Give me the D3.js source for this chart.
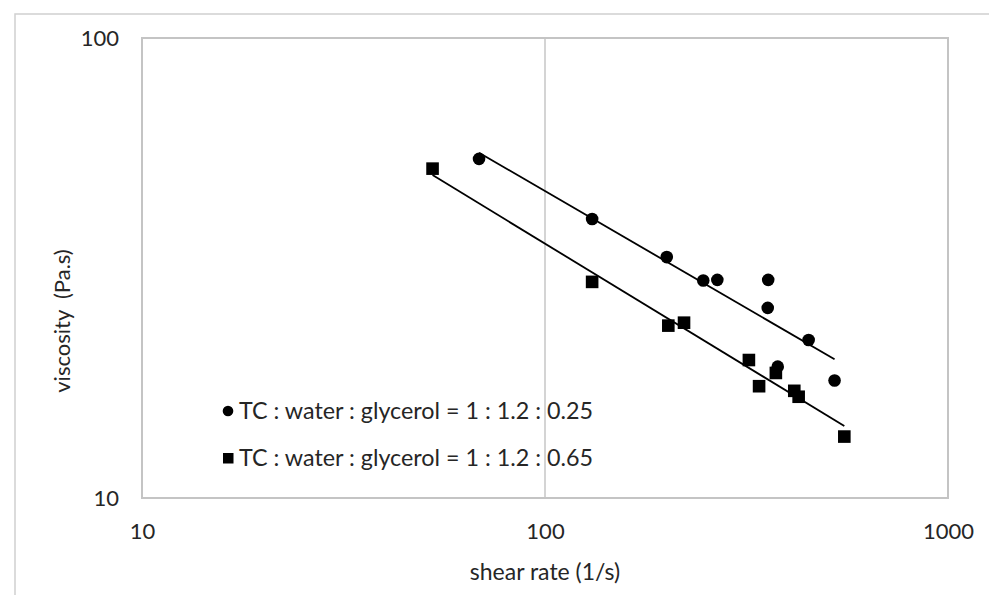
<!DOCTYPE html>
<html>
<head>
<meta charset="utf-8">
<script src="https://cdn.jsdelivr.net/npm/d3@7"></script>
<style>
  body { margin: 0; background: #fff; }
  text { font-family: Lato, "Open Sans", sans-serif; fill: #262626; }
</style>
</head>
<body>
<svg id="chart" width="989" height="595"></svg>
<script>
// data (log-log scatter with power trend lines)
var xTicks = [10, 100, 1000];
var yTicks = [10, 100];

var shear025 = [68.6, 130.9, 200.5, 247, 267.7, 358, 357, 451, 378, 523];
var visc025 = [54.6, 40.4, 33.4, 29.7, 29.8, 29.8, 25.9, 22.05, 19.3, 18.0];

var shear065 = [52.6, 130.9, 202.3, 221.3, 320.6, 374, 339.8, 415.5, 426, 553];
var visc065 = [52.0, 29.5, 23.7, 24.05, 19.95, 18.7, 17.5, 17.1, 16.6, 13.6];

// power trend y = a * x^b
var trendA = [484.5, 417.8];
var trendB = [-0.509, -0.534];

var seriesNames = [
  "TC : water : glycerol = 1 : 1.2 : 0.25",
  "TC : water : glycerol = 1 : 1.2 : 0.65"
];

var svg = d3.select("#chart"),
  margin = { top: 38, right: 41, bottom: 97, left: 142 },
  width = +svg.attr("width") - margin.left - margin.right,
  height = +svg.attr("height") - margin.top - margin.bottom;

// outer chart frame (runs off the picture on the right and bottom)
svg.append("rect")
  .attr("x", 15).attr("y", 14)
  .attr("width", 1000).attr("height", 620)
  .attr("fill", "none")
  .attr("stroke", "#d0d0d0")
  .attr("stroke-width", 1.5);

var x = d3.scaleLog().domain([10, 1000]).range([0, width]);
var y = d3.scaleLog().domain([10, 100]).range([height, 0]);

var g = svg.append("g")
  .attr("transform", "translate(" + margin.left + "," + margin.top + ")");

// vertical gridline at 100
g.append("line")
  .attr("x1", x(100)).attr("x2", x(100))
  .attr("y1", 0).attr("y2", height)
  .attr("stroke", "#b8b8b8")
  .attr("stroke-width", 1.2);

g.append("rect")
  .attr("width", width).attr("height", height)
  .attr("fill", "none")
  .attr("stroke", "#c4c4c4")
  .attr("stroke-width", 2);

var xAxis = g.append("g")
  .attr("transform", "translate(0," + height + ")")
  .call(d3.axisBottom(x).tickValues(xTicks).tickFormat(d3.format("d")).tickSize(0).tickPadding(25));
xAxis.select(".domain").remove();
xAxis.selectAll("text").attr("font-size", 22).attr("font-family", null);

var yAxis = g.append("g")
  .call(d3.axisLeft(y).tickValues(yTicks).tickFormat(d3.format("d")).tickSize(0).tickPadding(23));
yAxis.select(".domain").remove();
yAxis.selectAll("text").attr("font-size", 22).attr("font-family", null);

svg.append("text")
  .attr("x", 545).attr("y", 580)
  .attr("text-anchor", "middle")
  .attr("font-size", 23)
  .text("shear rate (1/s)");

svg.append("text")
  .attr("transform", "translate(70,321) rotate(-90)")
  .attr("text-anchor", "middle")
  .attr("font-size", 22)
  .style("white-space", "pre")
  .text("viscosity  (Pa.s)");

// trend lines
var shears = [shear025, shear065];
var line = d3.line()
  .x(function (d) { return x(d[0]); })
  .y(function (d) { return y(d[1]); });

shears.forEach(function (sx, i) {
  var lo = d3.min(sx), hi = d3.max(sx);
  var pts = [lo, hi].map(function (v) { return [v, trendA[i] * Math.pow(v, trendB[i])]; });
  g.append("path")
    .attr("d", line(pts))
    .attr("fill", "none")
    .attr("stroke", "#000")
    .attr("stroke-width", 1.8);
});

// points
g.selectAll(".dot")
  .data(shear025.map(function (s, i) { return [s, visc025[i]]; }))
  .enter().append("circle")
  .attr("class", "dot")
  .attr("cx", function (d) { return x(d[0]); })
  .attr("cy", function (d) { return y(d[1]); })
  .attr("r", 6.3)
  .attr("fill", "#000");

g.selectAll(".sq")
  .data(shear065.map(function (s, i) { return [s, visc065[i]]; }))
  .enter().append("rect")
  .attr("class", "sq")
  .attr("x", function (d) { return x(d[0]) - 6.3; })
  .attr("y", function (d) { return y(d[1]) - 6.3; })
  .attr("width", 12.6).attr("height", 12.6)
  .attr("fill", "#000");

// legend
var legend = svg.append("g");
legend.append("circle")
  .attr("cx", 228).attr("cy", 411).attr("r", 5.3).attr("fill", "#000");
legend.append("rect")
  .attr("x", 223).attr("y", 453).attr("width", 10.5).attr("height", 10.5).attr("fill", "#000");
legend.selectAll(".lt")
  .data(seriesNames)
  .enter().append("text")
  .attr("class", "lt")
  .attr("x", 239)
  .attr("y", function (d, i) { return 419 + i * 47; })
  .attr("font-size", 23.3)
  .text(function (d) { return d; });
</script>
</body>
</html>
